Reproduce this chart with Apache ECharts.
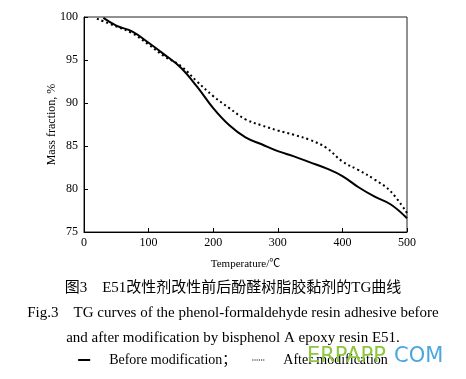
<!DOCTYPE html>
<html><head><meta charset="utf-8">
<script src="https://cdn.jsdelivr.net/npm/echarts@6/dist/echarts.min.js"></script>
<style>html,body{margin:0;padding:0;background:#fff}#c{width:466px;height:379px}</style>
</head><body><div id="c"></div>
<script>
const tempBefore = [30, 50, 75, 100, 125, 150, 175, 200, 225, 250, 275, 300, 325, 350, 375, 400, 425, 450, 475, 500];
const massBefore = [99.9, 99.0, 98.3, 97.0, 95.6, 94.1, 91.9, 89.4, 87.4, 86.0, 85.2, 84.4, 83.8, 83.1, 82.4, 81.5, 80.2, 79.1, 78.2, 76.6];
const tempAfter = [20, 50, 75, 100, 125, 150, 175, 200, 225, 250, 275, 300, 325, 350, 375, 400, 425, 450, 475, 500];
const massAfter = [99.8, 98.9, 98.1, 96.8, 95.4, 94.3, 92.5, 90.8, 89.4, 88.1, 87.4, 86.8, 86.3, 85.7, 84.8, 83.2, 82.2, 81.1, 79.7, 77.2];
const xTicks = [0, 100, 200, 300, 400, 500];
const yTicks = [75, 80, 85, 90, 95, 100];

const serif = '"Liberation Serif","Times New Roman","Noto Sans CJK SC",serif';
const chart = echarts.init(document.getElementById('c'));
chart.setOption({
  animation: false,
  grid: {left: 84, right: 59, top: 17, bottom: 147, show: true, borderColor: '#222', borderWidth: 1},
  xAxis: {
    type: 'value', min: xTicks[0], max: xTicks[xTicks.length-1], interval: 100,
    axisLine: {lineStyle: {color: '#000'}},
    axisTick: {inside: true, length: 4, lineStyle: {color: '#000'}},
    axisLabel: {color: '#000', fontFamily: serif, fontSize: 12, margin: 5},
    splitLine: {show: false},
    name: 'Temperature/℃', nameLocation: 'middle', nameGap: 27, nameMoveOverlap: false,
    nameTextStyle: {color: '#000', fontFamily: serif, fontSize: 11}
  },
  yAxis: {
    type: 'value', min: yTicks[0], max: yTicks[yTicks.length-1], interval: 5,
    axisLine: {lineStyle: {color: '#000'}},
    axisTick: {inside: true, length: 4, lineStyle: {color: '#000'}},
    axisLabel: {color: '#000', fontFamily: serif, fontSize: 12, margin: 6},
    splitLine: {show: false},
    name: 'Mass fraction, %', nameLocation: 'middle', nameGap: 26, nameMoveOverlap: false,
    nameTextStyle: {color: '#000', fontFamily: serif, fontSize: 12}
  },
  legend: {
    bottom: 7, left: 'center', itemWidth: 12, itemHeight: 2, itemGap: 16,
    textStyle: {color: '#000', fontFamily: serif, fontSize: 14, padding: [0,0,0,14]},
    data: [
      {name: 'Before modification；', icon: 'rect'},
      {name: 'After modification', icon: 'path://M0,0h1v1h-1z M2,0h1v1h-1z M4,0h1v1h-1z M6,0h1v1h-1z M8,0h1v1h-1z M10,0h1v1h-1z'}
    ]
  },
  series: [
    {name: 'Before modification；', type: 'line', smooth: 0.4, symbol: 'none',
     lineStyle: {color: '#000', width: 2}, itemStyle: {color: '#000'},
     data: tempBefore.map((t, i) => [t, massBefore[i]])},
    {name: 'After modification', type: 'line', smooth: 0.4, symbol: 'none',
     lineStyle: {color: '#000', width: 2, type: [2, 3]}, itemStyle: {color: '#000'},
     data: tempAfter.map((t, i) => [t, massAfter[i]])}
  ],
  graphic: [
    {type: 'text', left: 'center', top: 281, style: {text: '图3    E51改性剂改性前后酚醛树脂胶黏剂的TG曲线', font: '15px ' + serif, fill: '#000'}},
    {type: 'text', left: 'center', top: 306, style: {text: 'Fig.3    TG curves of the phenol-formaldehyde resin adhesive before', font: '15px ' + serif, fill: '#000'}},
    {type: 'text', left: 'center', top: 331, style: {text: 'and after modification by bisphenol A epoxy resin E51.', font: '15px ' + serif, fill: '#000'}},
    {type: 'text', left: 307, top: 346, z: 100, style: {text: 'ERPAPP', font: '21px "DejaVu Sans",sans-serif', fill: '#8dc63f'}},
    {type: 'text', left: 394, top: 346, z: 100, style: {text: 'COM', font: '21px "DejaVu Sans",sans-serif', fill: '#4da6e0'}}
  ]
});
</script></body></html>
